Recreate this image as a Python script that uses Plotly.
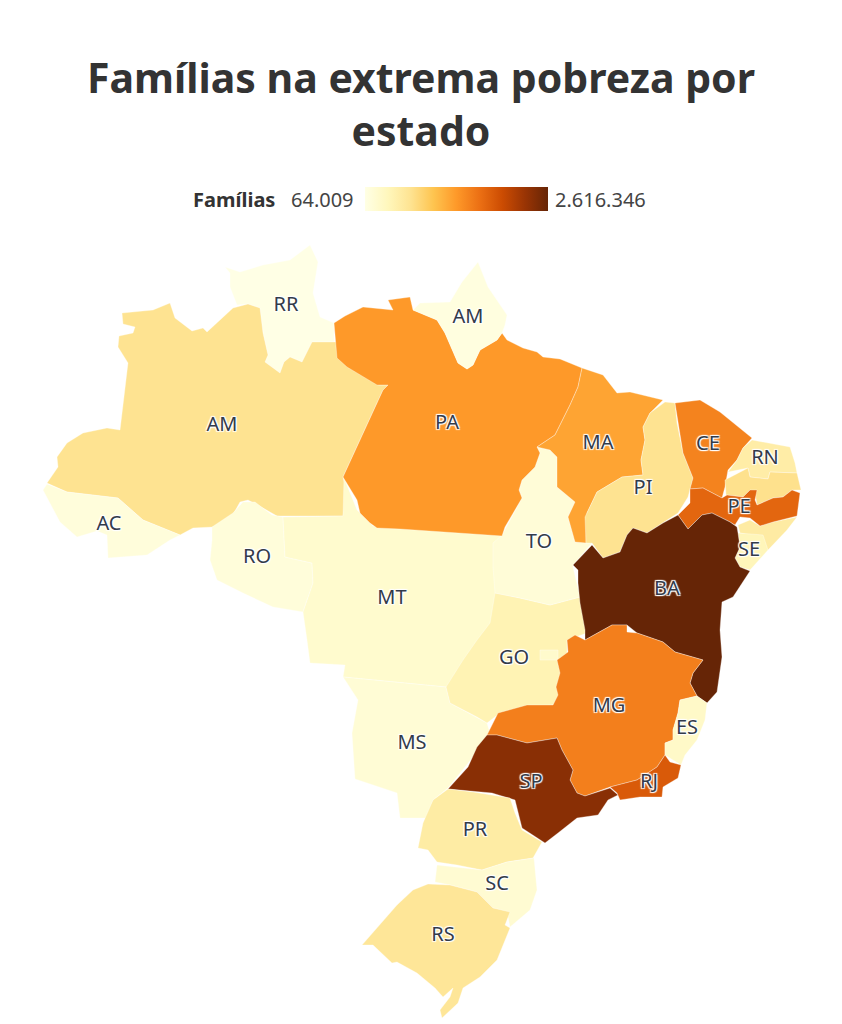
import plotly.graph_objects as go
from plotly.colors import sample_colorscale

# state outlines, in map units
RR_x = [225, 240, 263, 290, 310, 318, 313, 320, 334, 334, 312, 302, 290, 284, 280, 265, 268, 263, 260, 248, 237, 230, 230]
RR_y = [267, 272, 265, 260, 245, 262, 293, 317, 323, 342, 342, 362, 357, 362, 373, 362, 355, 333, 308, 304, 305, 287, 273]
AM_x = [122, 153, 170, 175, 192, 203, 207, 233, 248, 260, 263, 268, 265, 280, 284, 290, 302, 312, 336, 339, 349, 379, 388, 383, 343, 347, 343, 277, 263, 248, 240, 230, 213, 193, 180, 143, 118, 67, 47, 58, 57, 67, 83, 107, 120, 128, 118, 119, 133, 135, 123]
AM_y = [313, 310, 303, 318, 331, 328, 332, 308, 304, 308, 333, 355, 362, 373, 362, 357, 362, 342, 342, 358, 367, 385, 385, 390, 477, 493, 516, 516, 508, 500, 502, 520, 527, 528, 535, 520, 498, 492, 483, 467, 457, 443, 433, 428, 430, 363, 347, 336, 333, 327, 324]
AC_x = [47, 67, 118, 143, 180, 170, 147, 108, 107, 97, 77, 60, 43]
AC_y = [484, 492, 498, 520, 535, 540, 555, 558, 535, 531, 537, 522, 490]
RO_x = [212, 233, 243, 255, 272, 283, 285, 312, 313, 303, 273, 243, 217, 210, 212]
RO_y = [527, 513, 502, 502, 515, 517, 557, 563, 583, 612, 607, 593, 580, 560, 540]
MT_x = [283, 343, 344, 357, 373, 502, 510, 510, 500, 480, 446, 343, 345, 310, 307, 303, 313, 312, 285]
MT_y = [517, 516, 478, 510, 526, 535, 560, 600, 640, 670, 687, 677, 665, 663, 640, 612, 583, 563, 557]
MS_x = [343, 446, 450, 477, 487, 490, 473, 448, 433, 427, 400, 397, 355, 352, 358, 347]
MS_y = [677, 687, 703, 717, 723, 733, 757, 788, 800, 818, 818, 793, 779, 733, 700, 683]
GO_x = [495, 520, 550, 580, 587, 567, 567, 558, 562, 558, 560, 553, 525, 500, 487, 477, 450, 446, 463, 477, 490]
GO_y = [593, 598, 605, 597, 633, 640, 657, 663, 677, 687, 697, 705, 707, 713, 723, 717, 703, 687, 660, 640, 623]
DF_x = [540, 558, 558, 540]
DF_y = [650, 650, 660, 660]
TO_x = [537, 550, 557, 557, 575, 568, 575, 592, 573, 573, 580, 550, 520, 495, 493, 493, 502, 522, 519, 522, 535, 540]
TO_y = [447, 450, 457, 487, 502, 517, 542, 543, 565, 567, 597, 605, 598, 593, 567, 543, 535, 498, 490, 480, 467, 453]
PA_x = [388, 410, 413, 437, 445, 458, 467, 473, 480, 497, 502, 507, 523, 537, 543, 560, 582, 578, 570, 555, 537, 540, 535, 522, 519, 522, 505, 502, 400, 377, 370, 360, 357, 343, 383, 388, 377, 347, 337, 334, 345, 363, 393]
PA_y = [300, 297, 310, 320, 333, 363, 369, 365, 350, 340, 333, 340, 348, 352, 357, 359, 368, 387, 405, 435, 447, 453, 467, 480, 490, 498, 527, 536, 529, 528, 523, 513, 500, 477, 390, 385, 385, 367, 358, 323, 316, 307, 310]
AP_x = [413, 420, 450, 462, 478, 488, 507, 505, 502, 497, 480, 473, 467, 458, 445, 437]
AP_y = [310, 303, 302, 282, 262, 287, 315, 325, 333, 340, 350, 365, 369, 363, 333, 320]
MA_x = [582, 597, 603, 617, 630, 663, 650, 643, 645, 641, 643, 622, 597, 587, 586, 575, 568, 575, 557, 557, 550, 537, 555, 570, 578]
MA_y = [368, 373, 375, 393, 392, 400, 413, 427, 440, 460, 475, 477, 492, 513, 543, 542, 517, 502, 487, 457, 450, 447, 435, 405, 387]
PI_x = [665, 675, 677, 683, 693, 688, 678, 663, 647, 633, 627, 620, 603, 592, 586, 585, 597, 622, 643, 641, 645, 643, 650]
PI_y = [402, 403, 423, 453, 478, 497, 513, 523, 533, 528, 535, 552, 558, 543, 543, 517, 492, 477, 475, 460, 440, 427, 413]
CE_x = [675, 700, 720, 752, 743, 737, 728, 725, 722, 703, 690, 693, 683, 677]
CE_y = [403, 400, 412, 438, 448, 460, 470, 487, 498, 488, 489, 478, 453, 417]
RN_x = [752, 790, 795, 797, 770, 768, 750, 748, 728, 737, 743]
RN_y = [440, 447, 463, 473, 472, 479, 477, 468, 472, 460, 448]
PB_x = [725, 748, 750, 768, 770, 797, 801, 792, 783, 773, 757, 755, 750, 743, 726]
PB_y = [480, 468, 477, 479, 472, 473, 490, 490, 497, 498, 505, 493, 490, 497, 495]
AL_x = [738, 750, 760, 773, 797, 787, 768, 763, 750, 740]
AL_y = [525, 520, 526, 522, 517, 530, 550, 547, 535, 533]
SE_x = [738, 763, 768, 750, 740, 735, 740]
SE_y = [533, 535, 550, 570, 567, 558, 547]
PE_x = [690, 703, 722, 727, 743, 750, 757, 755, 757, 773, 783, 792, 800, 797, 773, 760, 750, 740, 735, 730, 712, 702, 688, 678, 690]
PE_y = [489, 488, 498, 495, 497, 490, 490, 500, 505, 498, 497, 490, 493, 516, 522, 526, 518, 517, 525, 522, 513, 515, 529, 515, 503]
BA_x = [678, 688, 702, 712, 730, 737, 738, 740, 735, 740, 750, 733, 722, 720, 722, 717, 707, 697, 690, 693, 703, 675, 663, 637, 627, 612, 585, 585, 580, 578, 578, 573, 592, 603, 620, 627, 633, 647, 663]
BA_y = [515, 529, 515, 513, 522, 527, 533, 547, 558, 567, 571, 597, 602, 630, 657, 692, 703, 696, 683, 673, 660, 652, 642, 633, 625, 625, 640, 630, 603, 583, 570, 565, 545, 558, 552, 535, 528, 533, 523]
MG_x = [585, 612, 627, 627, 637, 663, 675, 703, 693, 690, 697, 680, 678, 673, 673, 665, 665, 657, 637, 610, 585, 577, 570, 573, 562, 557, 527, 497, 487, 498, 527, 553, 558, 556, 560, 557, 568, 567, 575]
MG_y = [640, 625, 625, 632, 633, 642, 652, 660, 673, 683, 696, 700, 713, 730, 740, 743, 755, 767, 780, 787, 796, 793, 780, 770, 750, 738, 743, 735, 735, 713, 705, 705, 695, 687, 673, 660, 652, 640, 635]
ES_x = [680, 697, 707, 705, 697, 685, 681, 665, 665, 673, 673, 678]
ES_y = [700, 696, 703, 720, 740, 755, 765, 755, 743, 740, 730, 713]
RJ_x = [610, 637, 657, 665, 670, 681, 678, 663, 662, 640, 620, 617]
RJ_y = [787, 780, 767, 755, 762, 765, 778, 787, 797, 797, 800, 793]
SP_x = [487, 497, 527, 557, 562, 573, 570, 577, 585, 610, 618, 608, 598, 577, 558, 545, 522, 515, 492, 448, 468, 477]
SP_y = [735, 735, 743, 738, 750, 770, 780, 793, 796, 788, 795, 800, 815, 818, 833, 843, 828, 800, 793, 789, 767, 747]
PR_x = [448, 473, 510, 515, 522, 542, 533, 507, 482, 457, 437, 428, 418, 423, 433]
PR_y = [789, 792, 798, 813, 830, 842, 858, 862, 870, 865, 862, 850, 848, 823, 800]
SC_x = [437, 482, 507, 534, 537, 530, 510, 507, 493, 477, 450, 435]
SC_y = [865, 870, 862, 858, 890, 910, 927, 912, 908, 892, 885, 882]
RS_x = [428, 450, 477, 493, 510, 505, 510, 497, 480, 463, 458, 442, 440, 450, 453, 443, 435, 417, 397, 392, 373, 362, 397, 413]
RS_y = [884, 885, 892, 908, 912, 925, 928, 960, 977, 988, 1003, 1018, 1010, 997, 988, 997, 988, 973, 962, 963, 945, 945, 905, 890]

# families per state, estimated from the fill colours
states = ["RR", "AM", "AC", "RO", "MT", "MS", "GO", "DF", "TO", "PA", "AP", "MA", "PI", "CE", "RN", "PB", "AL", "SE", "PE", "BA", "MG", "ES", "RJ", "SP", "PR", "SC", "RS"]
familias = [64009, 700000, 140000, 150000, 240000, 190000, 440000, 260000, 170000, 1340000, 110000, 1260000, 700000, 1510000, 540000, 720000, 570000, 400000, 1750000, 2616346, 1540000, 290000, 1850000, 2400000, 560000, 210000, 650000]
outlines_x = [RR_x, AM_x, AC_x, RO_x, MT_x, MS_x, GO_x, DF_x, TO_x, PA_x, AP_x, MA_x, PI_x, CE_x, RN_x, PB_x, AL_x, SE_x, PE_x, BA_x, MG_x, ES_x, RJ_x, SP_x, PR_x, SC_x, RS_x]
outlines_y = [RR_y, AM_y, AC_y, RO_y, MT_y, MS_y, GO_y, DF_y, TO_y, PA_y, AP_y, MA_y, PI_y, CE_y, RN_y, PB_y, AL_y, SE_y, PE_y, BA_y, MG_y, ES_y, RJ_y, SP_y, PR_y, SC_y, RS_y]

# the source labels Amapa as AM too, DF has no label
labels = ["RR", "AM", "AM", "PA", "MA", "CE", "RN", "PI", "PE", "SE", "TO", "AC", "RO", "MT", "BA", "GO", "MG", "ES", "MS", "SP", "RJ", "PR", "SC", "RS"]
label_state = ["RR", "AP", "AM", "PA", "MA", "CE", "RN", "PI", "PE", "SE", "TO", "AC", "RO", "MT", "BA", "GO", "MG", "ES", "MS", "SP", "RJ", "PR", "SC", "RS"]
label_x = [286, 468, 222, 447, 598, 708, 765, 643, 739, 749, 539, 109, 257, 392, 667, 514, 609, 687, 412, 531, 649, 475, 497, 443]
label_y = [306, 318, 426, 424, 444, 445, 459, 489, 508, 551, 543, 525, 558, 599, 590, 659, 707, 729, 744, 783, 783, 831, 885, 936]

ylorbr = ["#ffffe5", "#fff7bc", "#fee391", "#fec44f", "#fe9929", "#ec7014", "#cc4c02", "#993404", "#662506"]
vmin = 64009
vmax = 2616346
font = "Noto Sans"

fig = go.Figure()

for name, xs, ys, val in zip(states, outlines_x, outlines_y, familias):
    frac = (val - vmin) / (vmax - vmin)
    fig.add_trace(go.Scatter(
        x=xs + xs[:1], y=ys + ys[:1], mode="lines", fill="toself",
        fillcolor=sample_colorscale(ylorbr, frac)[0],
        line=dict(color="rgba(255,255,255,0.55)", width=0.6),
        name=name, hovertemplate=name + ": %{text}<extra></extra>", text=[val] * (len(xs) + 1),
        showlegend=False,
    ))

label_vals = [familias[states.index(s)] for s in label_state]
halo = "1px 1px 1px #fff, -1px -1px 1px #fff, 1px -1px 1px #fff, -1px 1px 1px #fff"
fig.add_trace(go.Scatter(
    x=label_x, y=label_y, mode="text+markers", text=labels, textposition="middle center",
    textfont=dict(family=font, size=20, color="#333b4a", shadow=halo),
    marker=dict(size=1, opacity=0, color=label_vals, coloraxis="coloraxis"),
    hoverinfo="skip", showlegend=False,
))

fig.update_layout(
    width=842, height=1024,
    margin=dict(l=0, r=0, t=0, b=0),
    paper_bgcolor="white", plot_bgcolor="white",
    title=dict(text="<b>Famílias na extrema pobreza por<br>estado</b>", x=0.5, xanchor="center",
               y=0.909, yanchor="top", font=dict(family=font, size=41, color="#333333")),
    xaxis=dict(range=[0, 842], visible=False),
    yaxis=dict(range=[1024, 0], visible=False),
    coloraxis=dict(
        colorscale=ylorbr, cmin=vmin, cmax=vmax,
        colorbar=dict(orientation="h", lenmode="pixels", len=183, thickness=24, thicknessmode="pixels",
                      x=456.5 / 842, xanchor="center", y=1 - 199 / 1024, yanchor="middle", xpad=0, ypad=0,
                      showticklabels=False, ticks="", outlinewidth=0, title=None),
    ),
    annotations=[
        dict(x=277, y=199, xref="x", yref="y", text="<b>Famílias</b>", showarrow=False, xanchor="right",
             font=dict(family=font, size=20, color="#333333")),
        dict(x=356, y=199, xref="x", yref="y", text="64.009", showarrow=False, xanchor="right",
             font=dict(family=font, size=20, color="#444444")),
        dict(x=553, y=199, xref="x", yref="y", text="2.616.346", showarrow=False, xanchor="left",
             font=dict(family=font, size=20, color="#444444")),
    ],
)

# the page's default body margin would push everything 8px off
fig.write_html("out.html", config={"displayModeBar": False}, post_script="document.body.style.margin='0';")
